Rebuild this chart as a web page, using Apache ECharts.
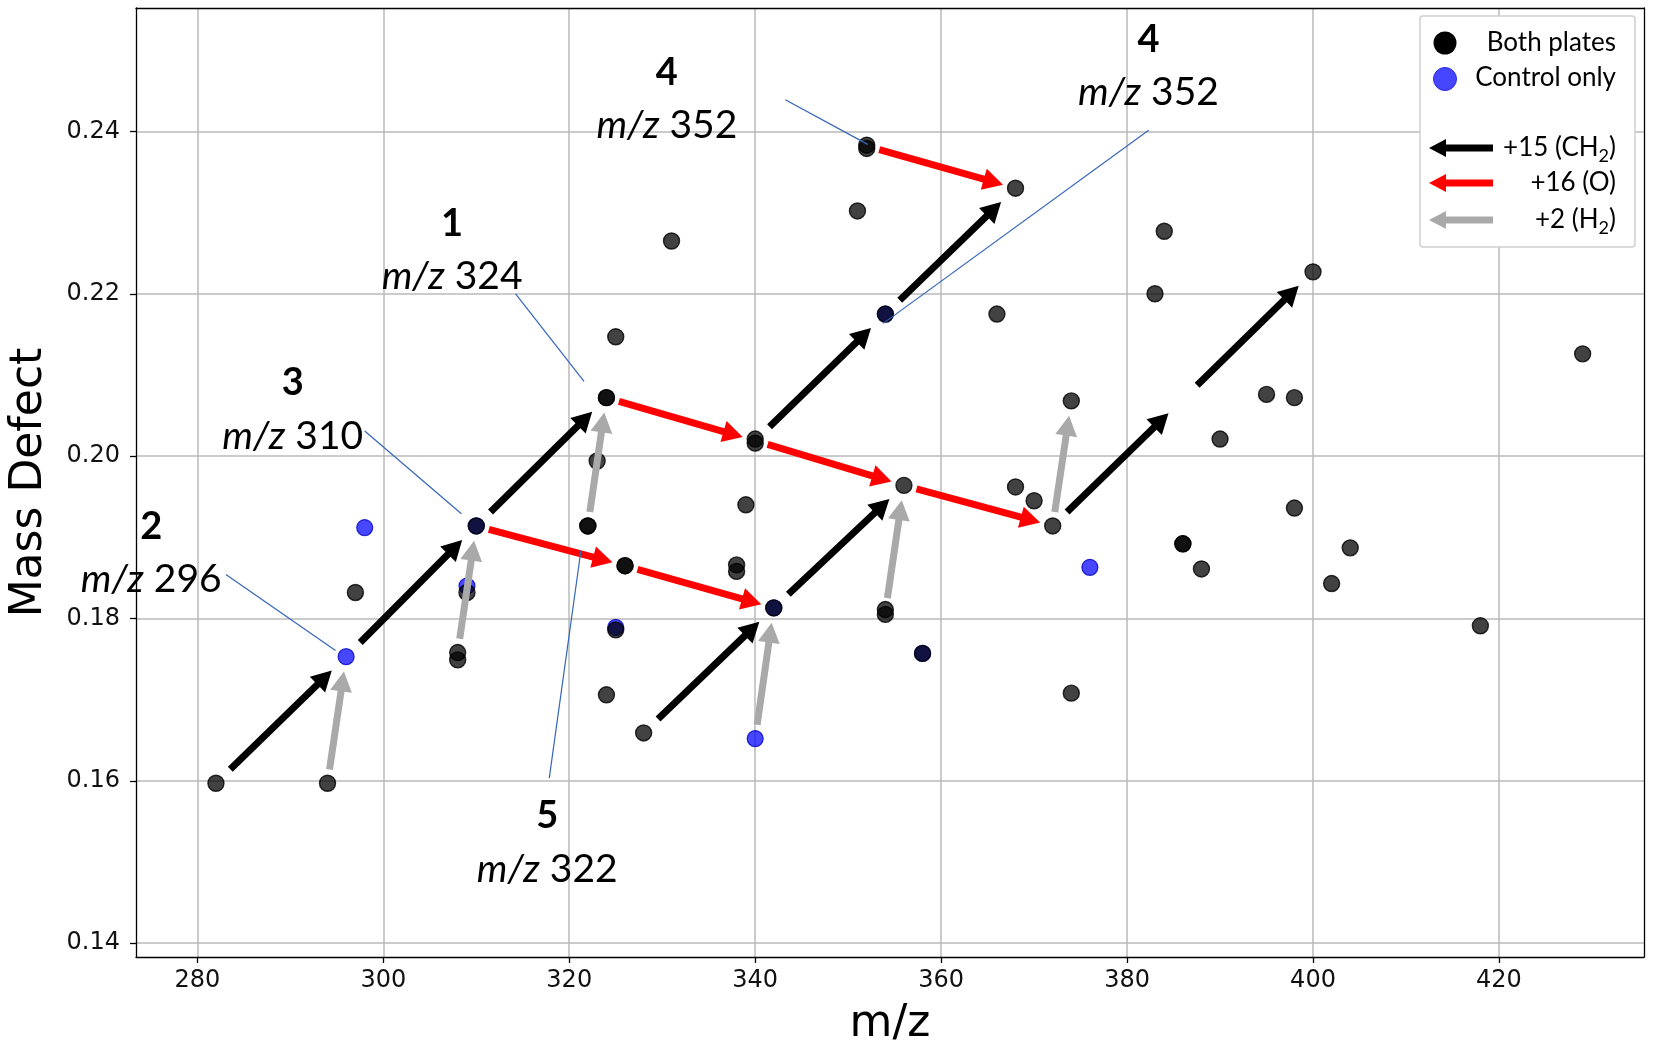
<!DOCTYPE html>
<html>
<head>
<meta charset="utf-8">
<script src="https://cdn.jsdelivr.net/npm/echarts@6.0.0/dist/echarts.min.js"></script>
<style>
html,body{margin:0;padding:0;background:#fff;}
#chart{width:1654px;height:1056px;}
</style>
</head>
<body>
<div id="chart"></div>
<script>
// ---------- data ----------
const xTicks = [280, 300, 320, 340, 360, 380, 400, 420];
const yTicks = [0.14, 0.16, 0.18, 0.20, 0.22, 0.24];

// control-only points (drawn first, blue)
const controlOnly = [
  [296, 0.1753], [298, 0.1912], [309, 0.1840], [310, 0.1914], [325, 0.1789],
  [340, 0.1652], [342, 0.1813], [354, 0.2175], [358, 0.1757], [376, 0.1863]
];

// points found on both plates (black, semi-transparent)
const bothPlates = [
  [282, 0.1597], [294, 0.1597], [297, 0.1832], [308, 0.1758], [308, 0.1749],
  [309, 0.1832], [310, 0.1914], [322, 0.1914], [322, 0.1914], [323, 0.1994],
  [324, 0.2072], [324, 0.2072], [325, 0.2147], [326, 0.1865], [326, 0.1865],
  [325, 0.1786], [324, 0.1706], [328, 0.1659], [331, 0.2265], [338, 0.1866],
  [338, 0.1858], [339, 0.1940], [340, 0.2021], [340, 0.2016], [342, 0.1813],
  [351, 0.2302], [352, 0.2383], [352, 0.2379], [354, 0.2175], [354, 0.1811],
  [354, 0.1805], [356, 0.1964], [358, 0.1757], [366, 0.2175], [368, 0.2330],
  [368, 0.1962], [370, 0.1945], [372, 0.1914], [374, 0.2068], [374, 0.1708],
  [383, 0.2200], [384, 0.2277], [386, 0.1892], [386, 0.1892], [388, 0.1861],
  [390, 0.2021], [395, 0.2076], [398, 0.2072], [398, 0.1936], [400, 0.2227],
  [402, 0.1843], [404, 0.1887], [418, 0.1791], [429, 0.2126]
];

// arrows [x0, y0, x1, y1]
const ch2Arrows = [
  [282, 0.1597, 296, 0.1753], [296, 0.1753, 310, 0.1914], [310, 0.1914, 324, 0.2072],
  [328, 0.1659, 342, 0.1813], [342, 0.1813, 356, 0.1964], [340, 0.2019, 354, 0.2175],
  [354, 0.2175, 368, 0.2330], [372, 0.1914, 386, 0.2070], [386, 0.2070, 400, 0.2227]
];
const oArrows = [
  [352, 0.2382, 368, 0.2330], [324, 0.2072, 340, 0.2019], [340, 0.2019, 356, 0.1964],
  [356, 0.1964, 372, 0.1914], [310, 0.1914, 326, 0.1865], [326, 0.1865, 342, 0.1813]
];
const h2Arrows = [
  [294, 0.1597, 296, 0.1753], [308, 0.1758, 310, 0.1914], [322, 0.1914, 324, 0.2072],
  [340, 0.1652, 342, 0.1813], [354, 0.1808, 356, 0.1964], [372, 0.1914, 374, 0.2068]
];

// thin blue leader lines [x0, y0, x1, y1]
const leaderLines = [
  [283.07, 0.18541, 294.86, 0.17606],
  [298.0, 0.2031, 308.4, 0.1929],
  [314.23, 0.21999, 321.59, 0.20921],
  [317.85, 0.16033, 321.26, 0.18840],
  [343.24, 0.24391, 352.1, 0.2384],
  [382.32, 0.24014, 353.77, 0.21635]
];

// compound annotations
const labelIds = ['4', '4', '1', '3', '2', '5'];
const labelMz = ['352', '352', '324', '310', '296', '322'];
const labelX = [330.5, 382.3, 307.4, 290.25, 275.03, 317.63];
const labelYNum = [0.2472, 0.2513, 0.2286, 0.2090, 0.1913, 0.1557];
const labelYMz = [0.2407, 0.2448, 0.2221, 0.2024, 0.1848, 0.1491];

// ---------- styles ----------
const ANN_FONT = 'Lato, "Open Sans", sans-serif';
const TICK_FONT = '"DejaVu Sans", sans-serif';
const SHAFT = 7, HEAD_LEN = 20, HEAD_W = 22;

function arrowPoints(s, t, headLen, headW, shaft) {
  const dx = t[0] - s[0], dy = t[1] - s[1];
  const L = Math.hypot(dx, dy) || 1;
  const ux = dx / L, uy = dy / L, nx = -uy, ny = ux;
  const b = [t[0] - ux * headLen, t[1] - uy * headLen];
  const w = shaft / 2, h = headW / 2;
  return [
    [s[0] + nx * w, s[1] + ny * w], [b[0] + nx * w, b[1] + ny * w],
    [b[0] + nx * h, b[1] + ny * h], [t[0], t[1]],
    [b[0] - nx * h, b[1] - ny * h], [b[0] - nx * w, b[1] - ny * w],
    [s[0] - nx * w, s[1] - ny * w]
  ];
}

function arrowSeries(list, color, shrinkA, shrinkB) {
  return {
    type: 'custom', z: 4, silent: true, clip: false,
    encode: { x: [0, 2], y: [1, 3] },
    data: list,
    renderItem: function (params, api) {
      const d = list[params.dataIndex];
      const p0 = api.coord([d[0], d[1]]);
      const p1 = api.coord([d[2], d[3]]);
      const dx = p1[0] - p0[0], dy = p1[1] - p0[1];
      const L = Math.hypot(dx, dy) || 1;
      const ux = dx / L, uy = dy / L;
      const s = [p0[0] + ux * shrinkA, p0[1] + uy * shrinkA];
      const t = [p1[0] - ux * shrinkB, p1[1] - uy * shrinkB];
      return { type: 'polygon', shape: { points: arrowPoints(s, t, HEAD_LEN, HEAD_W, SHAFT) }, style: { fill: color } };
    }
  };
}

const fmtX = v => (Math.abs(v / 20 - Math.round(v / 20)) < 1e-6 ? String(Math.round(v)) : '');
const fmtY = v => (Math.abs(v / 0.02 - Math.round(v / 0.02)) < 1e-6 ? v.toFixed(2) : '');

const axisLineStyle = { color: '#000', width: 1.3 };
const X_MIN = 273.4, X_MAX = 435.6, Y_MIN = 0.1383, Y_MAX = 0.2552;

// legend (pixel layout of the legend box only)
const LX = 1420, LY = 16, LW = 215, LH = 231, TEXT_R = 1616;
function legendArrow(y, color) {
  const pts = arrowPoints([1493, y], [1429, y], 17, 18, 7);
  return { type: 'polygon', shape: { points: pts }, style: { fill: color }, z: 101 };
}
function legendText(y, text, rich) {
  return {
    type: 'text', x: TEXT_R, y: y, z: 102,
    style: {
      text: text, fill: '#000', fontFamily: ANN_FONT, fontSize: 26, lineHeight: 34,
      align: 'right', verticalAlign: 'middle',
      rich: rich || {}
    }
  };
}
const subRich = { s: { fontSize: 18, fontFamily: ANN_FONT, fill: '#000', verticalAlign: 'bottom', lineHeight: 34 } };

const chart = echarts.init(document.getElementById('chart'), null, { renderer: 'canvas' });
chart.setOption({
  animation: false,
  backgroundColor: '#fff',
  grid: { left: 133, right: 10, top: 8, bottom: 99, containLabel: false, show: false },
  xAxis: [{
    type: 'value', min: X_MIN, max: X_MAX, splitNumber: 8, minInterval: 20, maxInterval: 20,
    axisLine: { show: true, onZero: false, lineStyle: axisLineStyle },
    axisTick: { show: true, length: 6, lineStyle: axisLineStyle, customValues: xTicks },
    axisLabel: { customValues: xTicks, formatter: fmtX, margin: 12, fontSize: 24, fontFamily: TICK_FONT, color: '#111' },
    splitLine: { show: true, lineStyle: { color: '#bababa', width: 1.5 } },
    name: 'm/z', nameLocation: 'middle', nameGap: 46,
    nameTextStyle: { fontSize: 44, fontFamily: TICK_FONT, color: '#000' }
  }, {
    type: 'value', position: 'top', min: X_MIN, max: X_MAX,
    axisLine: { show: true, onZero: false, lineStyle: axisLineStyle },
    axisTick: { show: false }, axisLabel: { show: false }, splitLine: { show: false }
  }],
  yAxis: [{
    type: 'value', min: Y_MIN, max: Y_MAX, splitNumber: 6, minInterval: 0.02, maxInterval: 0.02,
    axisLine: { show: true, onZero: false, lineStyle: axisLineStyle },
    axisTick: { show: true, length: 6, lineStyle: axisLineStyle, customValues: yTicks },
    axisLabel: { customValues: yTicks, formatter: fmtY, margin: 16, fontSize: 24, fontFamily: TICK_FONT, color: '#111' },
    splitLine: { show: true, lineStyle: { color: '#bababa', width: 1.5 } },
    name: 'Mass Defect', nameLocation: 'middle', nameGap: 84, nameRotate: 90,
    nameTextStyle: { fontSize: 44, fontFamily: TICK_FONT, color: '#000' }
  }, {
    type: 'value', position: 'right', min: Y_MIN, max: Y_MAX,
    axisLine: { show: true, onZero: false, lineStyle: axisLineStyle },
    axisTick: { show: false }, axisLabel: { show: false }, splitLine: { show: false }
  }],
  series: [
    {
      name: 'Control only', type: 'scatter', z: 2, silent: true,
      data: controlOnly, symbolSize: 16,
      itemStyle: { color: 'rgba(0,0,255,0.72)', borderColor: 'rgba(0,0,190,0.8)', borderWidth: 1.2, opacity: 1 }
    },
    {
      name: 'Both plates', type: 'scatter', z: 3, silent: true,
      data: bothPlates, symbolSize: 16,
      itemStyle: { color: 'rgba(0,0,0,0.74)', borderColor: 'rgba(0,0,0,0.8)', borderWidth: 1.4, opacity: 1 }
    },
    arrowSeries(h2Arrows, '#a9a9a9', 14, 15),
    arrowSeries(ch2Arrows, '#000000', 20, 20),
    arrowSeries(oArrows, '#ff0000', 13, 13),
    {
      type: 'custom', z: 5, silent: true, clip: false,
      encode: { x: [0, 2], y: [1, 3] },
      data: leaderLines,
      renderItem: function (params, api) {
        const d = leaderLines[params.dataIndex];
        const a = api.coord([d[0], d[1]]), b = api.coord([d[2], d[3]]);
        return { type: 'line', shape: { x1: a[0], y1: a[1], x2: b[0], y2: b[1] }, style: { stroke: '#3465b8', lineWidth: 1.2 } };
      }
    },
    {
      type: 'custom', z: 6, silent: true, clip: false,
      encode: { x: 0, y: 1 },
      data: labelX.map((x, i) => [x, labelYNum[i], labelYMz[i]]),
      renderItem: function (params, api) {
        const i = params.dataIndex;
        const pn = api.coord([labelX[i], labelYNum[i]]);
        const pm = api.coord([labelX[i], labelYMz[i]]);
        return {
          type: 'group', children: [
            { type: 'text', x: pn[0], y: pn[1], style: { text: labelIds[i], fill: '#000', fontFamily: ANN_FONT, fontSize: 38, fontWeight: 'bold', align: 'center', verticalAlign: 'middle' } },
            { type: 'text', x: pm[0], y: pm[1], style: {
              text: '{i|m/z} ' + labelMz[i], fill: '#000', fontFamily: ANN_FONT, fontSize: 39, align: 'center', verticalAlign: 'middle',
              rich: { i: { fontFamily: ANN_FONT, fontSize: 39, fontStyle: 'italic', fill: '#000' } }
            } }
          ]
        };
      }
    }
  ],
  graphic: {
    elements: [
      { type: 'rect', z: 100, shape: { x: LX, y: LY, width: LW, height: LH, r: 3 }, style: { fill: '#fff', stroke: '#cfcfcf', lineWidth: 1.5 } },
      { type: 'circle', z: 101, shape: { cx: 1445, cy: 43, r: 11.5 }, style: { fill: '#000' } },
      { type: 'circle', z: 101, shape: { cx: 1445, cy: 79, r: 11.5 }, style: { fill: '#4646ff', stroke: '#2a2ae0', lineWidth: 1 } },
      legendText(43, 'Both plates'),
      legendText(78, 'Control only'),
      legendArrow(148, '#000'),
      legendArrow(183, '#ff0000'),
      legendArrow(220, '#a9a9a9'),
      legendText(148, '+15 (CH{s|2})', subRich),
      legendText(183, '+16 (O)'),
      legendText(220, '+2 (H{s|2})', subRich)
    ]
  }
});
</script>
</body>
</html>
